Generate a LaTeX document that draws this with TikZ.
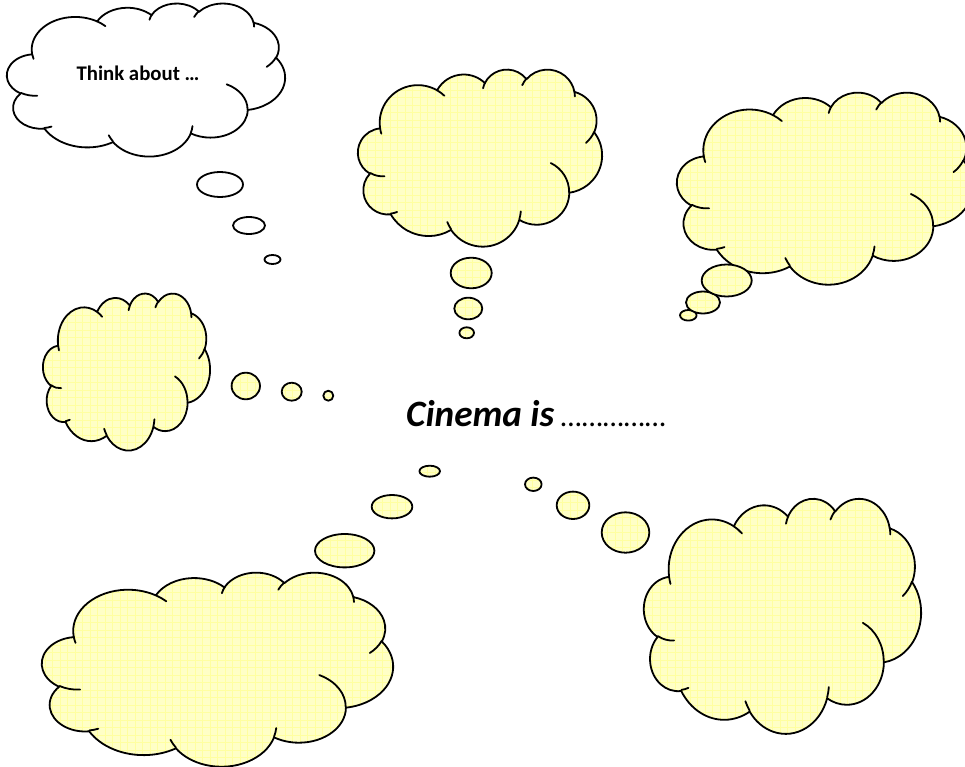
\documentclass[tikz,border=0pt]{standalone}
\usepackage{fontspec}
\newfontfamily\calibri{Carlito}
\definecolor{cloudyellow}{HTML}{FFFFC6}
\definecolor{gridyellow}{HTML}{FFFFA0}
\newcommand\CloudOutline[4]{%
(#1+0.09028*#3, -#2-0.33264*#4)
 arc[start angle=187.75, delta angle=-128.12, x radius=0.15632*#3 pt, y radius=0.21273*#4 pt]
 arc[start angle=152.02, delta angle=-106.59, x radius=0.12345*#3 pt, y radius=0.16822*#4 pt]
 arc[start angle=153.48, delta angle=-116.16, x radius=0.10104*#3 pt, y radius=0.13762*#4 pt]
 arc[start angle=139.72, delta angle=-129.51, x radius=0.11243*#3 pt, y radius=0.15266*#4 pt]
 arc[start angle=74.77, delta angle=-97.98, x radius=0.12345*#3 pt, y radius=0.16836*#4 pt]
 arc[start angle=37.53, delta angle=-119.39, x radius=0.15683*#3 pt, y radius=0.21343*#4 pt]
 arc[start angle=-0.46, delta angle=-121.51, x radius=0.13391*#3 pt, y radius=0.18211*#4 pt]
 arc[start angle=-16.84, delta angle=-129.41, x radius=0.15630*#3 pt, y radius=0.21331*#4 pt]
 arc[start angle=-58.98, delta angle=-91.22, x radius=0.17870*#3 pt, y radius=0.24405*#4 pt]
 arc[start angle=276.69, delta angle=-139.81, x radius=0.10093*#3 pt, y radius=0.13699*#4 pt]
 arc[start angle=239.64, delta angle=-143.75, x radius=0.10058*#3 pt, y radius=0.13762*#4 pt]
 -- cycle}
\newcommand\CloudInner[4]{%
(#1+0.10863*#3, -#2-0.60595*#4) arc[start angle=-85.55, delta angle=-34.81, x radius=0.10058*#3 pt, y radius=0.13762*#4 pt]
(#1+0.16037*#3, -#2-0.80785*#4) arc[start angle=-68.23, delta angle=-15.08, x radius=0.10093*#3 pt, y radius=0.13699*#4 pt]
(#1+0.38144*#3, -#2-0.90486*#4) arc[start angle=-146.25, delta angle=-12.23, x radius=0.15630*#3 pt, y radius=0.21331*#4 pt]
(#1+0.66729*#3, -#2-0.80442*#4) arc[start angle=-4.74, delta angle=-12.10, x radius=0.15630*#3 pt, y radius=0.21331*#4 pt]
(#1+0.79002*#3, -#2-0.53134*#4) arc[start angle=64.03, delta angle=-64.49, x radius=0.13391*#3 pt, y radius=0.18211*#4 pt]
(#1+0.96755*#3, -#2-0.35542*#4) arc[start angle=-23.21, delta angle=-26.43, x radius=0.12345*#3 pt, y radius=0.16836*#4 pt]
(#1+0.88713*#3, -#2-0.12560*#4) arc[start angle=10.21, delta angle=-11.03, x radius=0.11243*#3 pt, y radius=0.15266*#4 pt]
(#1+0.67310*#3, -#2-0.09148*#4) arc[start angle=156.29, delta angle=-16.57, x radius=0.11243*#3 pt, y radius=0.15266*#4 pt]
(#1+0.51252*#3, -#2-0.10926*#4) arc[start angle=167.73, delta angle=-14.25, x radius=0.10104*#3 pt, y radius=0.13762*#4 pt]
(#1+0.32407*#3, -#2-0.12019*#4) arc[start angle=59.63, delta angle=-13.89, x radius=0.15632*#3 pt, y radius=0.21273*#4 pt]
(#1+0.09553*#3, -#2-0.36549*#4) arc[start angle=-163.20, delta angle=-9.05, x radius=0.15632*#3 pt, y radius=0.21273*#4 pt]}
\tikzset{
  outline/.style={draw=black, line width=1.8pt, line join=round},
  yellowfill/.style={outline, fill=cloudyellow,
    path picture={\draw[gridyellow, line width=0.5pt]
      ([shift={(-8pt,-8pt)}]path picture bounding box.south west) grid[step=7.5pt]
      ([shift={(8pt,8pt)}]path picture bounding box.north east);}},
  whitefill/.style={outline, fill=white},
  innerline/.style={draw=black, line width=1.8pt, line cap=round},
}
\begin{document}
\begin{tikzpicture}[x=1pt,y=1pt]
\useasboundingbox (0,0) rectangle (965,-767);
% cloud 1 (white, "Think about")
\path[whitefill] \CloudOutline{7}{3}{278}{153};
\path[innerline] \CloudInner{7}{3}{278}{153};
\draw[whitefill] (272.5,-259.5) ellipse[x radius=8, y radius=4.5];
\draw[whitefill] (249,-225.5) ellipse[x radius=16, y radius=8.5];
\draw[whitefill] (220,-184.5) ellipse[x radius=23, y radius=12.5];
\node[anchor=base, inner sep=0] (think) at (138,-81) {\calibri\bfseries\fontsize{20.8}{24}\selectfont Think about …};
% cloud 2 (top centre)
\path[yellowfill] \CloudOutline{358}{69}{244}{177};
\path[innerline] \CloudInner{358}{69}{244}{177};
\path[yellowfill] (466.7,-332.8) ellipse[x radius=7.3, y radius=5.5];
\path[yellowfill] (468.3,-308.5) ellipse[x radius=14, y radius=10.8];
\path[yellowfill] (471.2,-273) ellipse[x radius=20.5, y radius=15.3];
% cloud 3 (top right)
\path[yellowfill] \CloudOutline{677}{92}{296}{192};
\path[innerline] \CloudInner{677}{92}{296}{192};
\path[yellowfill] (688.3,-315.3) ellipse[x radius=8.3, y radius=5.3];
\path[yellowfill] (703,-302.5) ellipse[x radius=17, y radius=11];
\path[yellowfill] (726.7,-280.5) ellipse[x radius=25, y radius=16];
% cloud 4 (left middle)
\path[yellowfill] \CloudOutline{43}{293}{167}{157};
\path[innerline] \CloudInner{43}{293}{167}{157};
\path[yellowfill] (328.3,-395.7) ellipse[x radius=5, y radius=5];
\path[yellowfill] (291.7,-391.7) ellipse[x radius=10, y radius=9];
\path[yellowfill] (245.8,-386) ellipse[x radius=14.2, y radius=13.3];
% cloud 5 (bottom left)
\path[yellowfill] \CloudOutline{42}{572}{351}{194};
\path[innerline] \CloudInner{42}{572}{351}{194};
\path[yellowfill] (429.7,-471.2) ellipse[x radius=10.3, y radius=5.5];
\path[yellowfill] (392,-506.7) ellipse[x radius=20.3, y radius=11.7];
\path[yellowfill] (344.7,-550.7) ellipse[x radius=29.7, y radius=16.7];
% cloud 6 (bottom right)
\path[yellowfill] \CloudOutline{644}{498}{277}{235};
\path[innerline] \CloudInner{644}{498}{277}{235};
\path[yellowfill] (533.3,-484.3) ellipse[x radius=8.3, y radius=6.7];
\path[yellowfill] (573,-505.3) ellipse[x radius=16.3, y radius=13.7];
\path[yellowfill] (625.5,-532.5) ellipse[x radius=23.8, y radius=20.2];
% centre text
\node[anchor=base west, inner sep=0] (cinema) at (406,-426.7) {\calibri\bfseries\itshape\fontsize{37.2}{41}\selectfont Cinema is};
\node[anchor=base west, inner sep=0] (dots) at (561,-426.7) {\calibri\itshape\fontsize{30.5}{34}\selectfont ……………};
\end{tikzpicture}
\end{document}
